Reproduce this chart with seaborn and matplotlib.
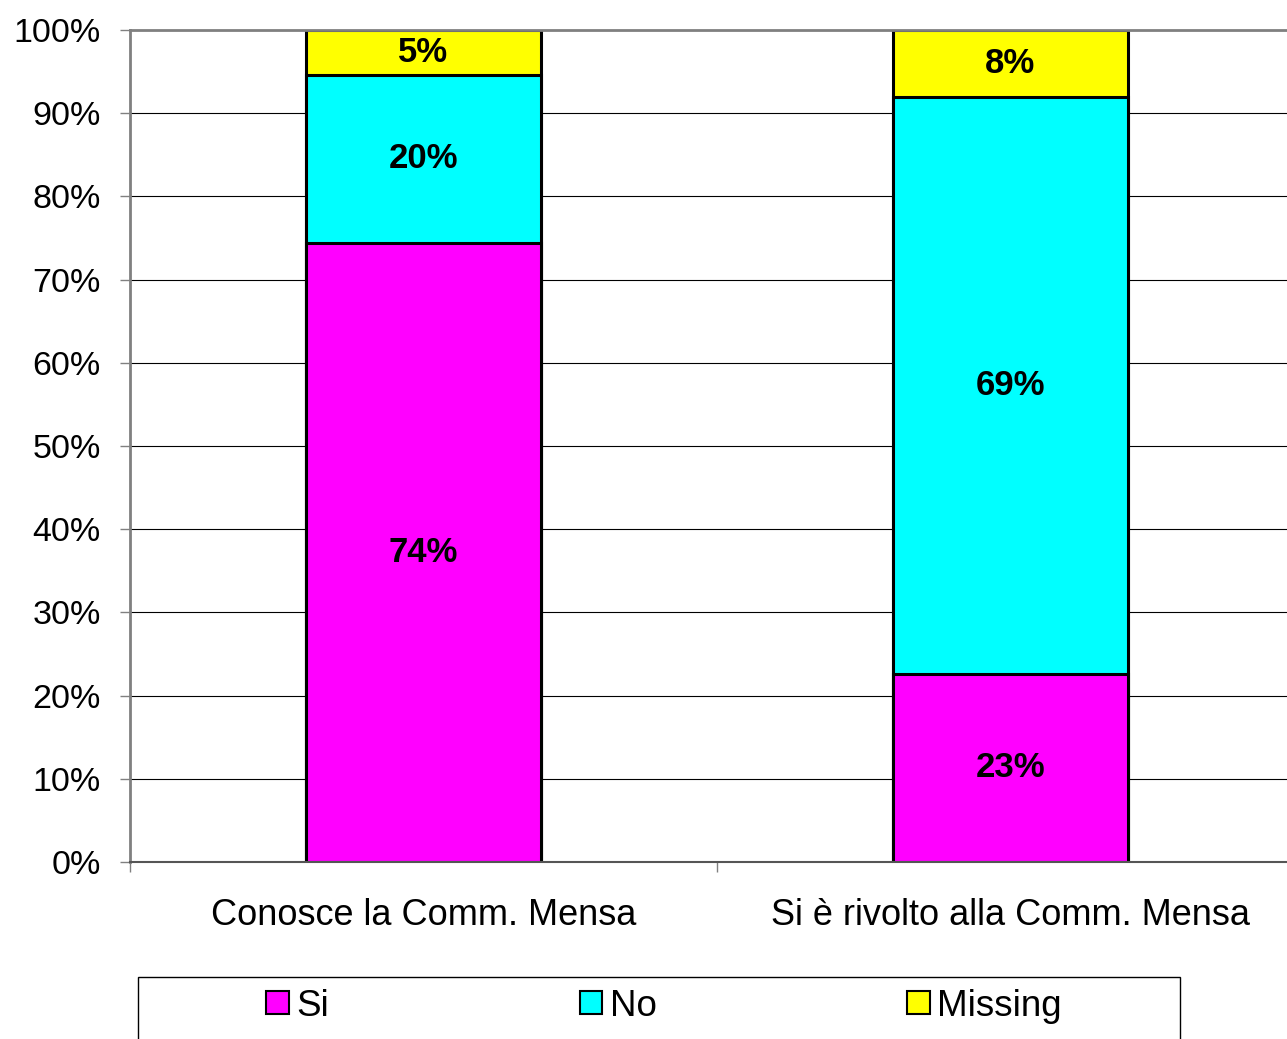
import matplotlib
matplotlib.use("Agg")
import matplotlib.pyplot as plt
from matplotlib.patches import Patch, Rectangle
from matplotlib.ticker import FixedLocator, PercentFormatter
import pandas as pd
import seaborn as sns

# data (percent of respondents)
categories = ["Conosce la Comm. Mensa", "Si è rivolto alla Comm. Mensa"]
si = [74.4, 22.6]
no = [20.2, 69.4]
missing = [5.4, 8.0]
series_names = ["Si", "No", "Missing"]
colors = {"Si": "#FF00FF", "No": "#00FFFF", "Missing": "#FFFF00"}


def main():
    sns.set_style("white")
    plt.rcParams["font.family"] = ["Liberation Sans", "DejaVu Sans"]
    plt.rcParams["text.color"] = "black"
    plt.rcParams["xtick.labelcolor"] = "black"
    plt.rcParams["ytick.labelcolor"] = "black"

    df = pd.DataFrame({"cat": categories, "Si": si, "No": no, "Missing": missing})
    df["top_si"] = df["Si"]
    df["top_no"] = df["Si"] + df["No"]
    df["top_missing"] = df["top_no"] + df["Missing"]

    W, H = 1287, 1039
    fig = plt.figure(figsize=(W / 100, H / 100), dpi=100)
    ax = fig.add_axes([130 / W, 1 - 862 / H, 1174 / W, 832 / H])

    # stacked bars: draw cumulative totals from the top down
    for col, name in [("top_missing", "Missing"), ("top_no", "No"), ("top_si", "Si")]:
        sns.barplot(data=df, x="cat", y=col, color=colors[name], width=0.402,
                    edgecolor="black", linewidth=2.2, saturation=1, ax=ax)

    # segment labels
    for i in range(len(categories)):
        base = 0
        for name in series_names:
            v = df.loc[i, name]
            ax.text(i, base + v / 2, f"{v:.0f}%", ha="center", va="center",
                    fontsize=25, fontweight="bold", color="black")
            base += v

    ax.set_xlim(-0.5, 1.5)
    ax.set_ylim(0, 100)
    ax.set_xlabel("")
    ax.set_ylabel("")

    ax.yaxis.set_major_locator(FixedLocator(range(0, 101, 10)))
    ax.yaxis.set_major_formatter(PercentFormatter(decimals=0))
    ax.tick_params(axis="y", which="major", left=True, length=7, width=1,
                   color="#808080", pad=14, labelsize=24.5, labelcolor="black")
    ax.tick_params(axis="x", which="major", length=0, pad=26, labelsize=26,
                   labelcolor="black")
    ax.xaxis.set_minor_locator(FixedLocator([-0.5, 0.5, 1.5]))
    ax.tick_params(axis="x", which="minor", bottom=True, length=7, width=1,
                   color="#808080")

    ax.set_axisbelow(True)
    ax.yaxis.grid(True, color="black", linewidth=0.8)
    ax.xaxis.grid(False)

    for side in ["left", "top"]:
        ax.spines[side].set_color("#808080")
        ax.spines[side].set_linewidth(2)
    ax.spines["bottom"].set_color("#555555")
    ax.spines["bottom"].set_linewidth(1.5)
    ax.spines["right"].set_visible(False)

    # legend
    handles = [Patch(facecolor=colors[n], edgecolor="black", linewidth=1.5)
               for n in series_names]
    fig.legend(handles, series_names, loc="center", ncol=3,
               bbox_to_anchor=(664 / W, 1 - 1006 / H), frameon=False,
               fontsize=26.5, handlelength=0.62, handleheight=0.62,
               handletextpad=0.2, columnspacing=6.8)
    fig.patches.append(Rectangle((138 / W, -0.05), (1180 - 138) / W,
                                 0.05 + (H - 977) / H, transform=fig.transFigure,
                                 fill=False, edgecolor="black", linewidth=1))

    fig.savefig("out.png", dpi=100)


if __name__ == "__main__":
    main()
